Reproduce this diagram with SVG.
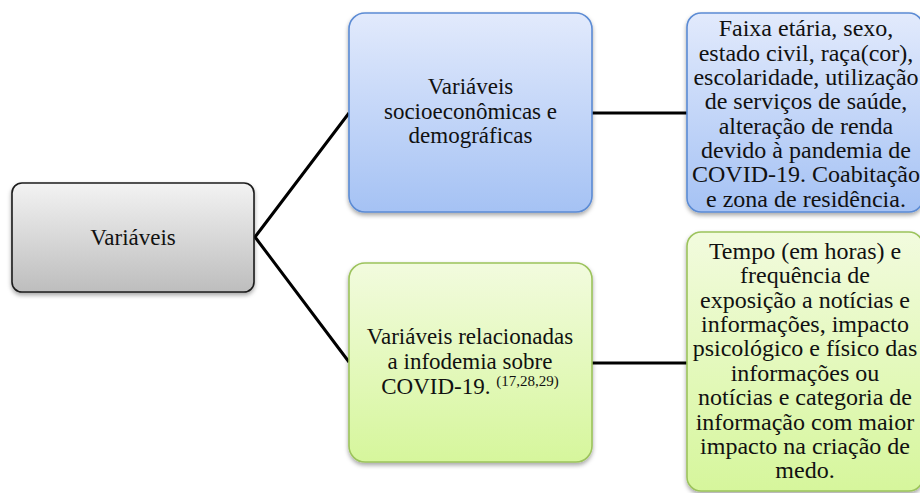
<svg xmlns="http://www.w3.org/2000/svg" width="920" height="493" viewBox="0 0 920 493">
<defs>
<linearGradient id="gGray" x1="0" y1="0" x2="0" y2="1"><stop offset="0" stop-color="#f3f3f3"/><stop offset="1" stop-color="#bdbdbd"/></linearGradient>
<linearGradient id="gBlue" x1="0" y1="0" x2="0" y2="1"><stop offset="0" stop-color="#e2eafc"/><stop offset="1" stop-color="#a5c2f4"/></linearGradient>
<linearGradient id="gGreen" x1="0" y1="0" x2="0" y2="1"><stop offset="0" stop-color="#f2fbde"/><stop offset="1" stop-color="#d6f69c"/></linearGradient>
<filter id="sh" x="-10%" y="-10%" width="120%" height="125%"><feDropShadow dx="0" dy="2.5" stdDeviation="2" flood-color="#000" flood-opacity="0.35"/></filter>
</defs>
<rect width="920" height="493" fill="#fff"/>
<g id="connectors" stroke="#000" stroke-width="3" fill="none">
<polyline points="349,113 255,237 349,362"/>
<line x1="592" y1="113" x2="687" y2="113"/>
<line x1="592" y1="363" x2="687" y2="363"/>
</g>
<g id="n-variaveis">
<rect x="12" y="183" width="242" height="109" rx="10" fill="url(#gGray)" stroke="#1c1c1c" stroke-width="1.6" filter="url(#sh)"/>
<text font-family="Liberation Serif" font-size="23" fill="#111" text-anchor="middle" x="133" y="245">Variáveis</text>
</g>
<g id="n-socio">
<rect x="349" y="13" width="243" height="199" rx="16" fill="url(#gBlue)" stroke="#5b8bd4" stroke-width="1.6" filter="url(#sh)"/>
<text font-family="Liberation Serif" font-size="23" fill="#111" text-anchor="middle" x="470.5" y="94">Variáveis</text>
<text font-family="Liberation Serif" font-size="23" fill="#111" text-anchor="middle" x="470.5" y="118.5">socioeconômicas e</text>
<text font-family="Liberation Serif" font-size="23" fill="#111" text-anchor="middle" x="470.5" y="143">demográficas</text>
</g>
<g id="n-socio-detail">
<rect x="687" y="13" width="236" height="199" rx="14" fill="url(#gBlue)" stroke="#5b8bd4" stroke-width="1.6" filter="url(#sh)"/>
<text font-family="Liberation Serif" font-size="24" fill="#111" text-anchor="middle" x="806" y="36">Faixa etária, sexo,</text>
<text font-family="Liberation Serif" font-size="24" fill="#111" text-anchor="middle" x="806" y="60.5">estado civil,  raça(cor),</text>
<text font-family="Liberation Serif" font-size="24" fill="#111" text-anchor="middle" x="806" y="85">escolaridade, utilização</text>
<text font-family="Liberation Serif" font-size="24" fill="#111" text-anchor="middle" x="806" y="109">de serviços de saúde,</text>
<text font-family="Liberation Serif" font-size="24" fill="#111" text-anchor="middle" x="806" y="133.5">alteração de renda</text>
<text font-family="Liberation Serif" font-size="24" fill="#111" text-anchor="middle" x="806" y="158">devido à pandemia de</text>
<text font-family="Liberation Serif" font-size="24" fill="#111" text-anchor="middle" x="806" y="182">COVID-19.  Coabitação</text>
<text font-family="Liberation Serif" font-size="24" fill="#111" text-anchor="middle" x="806" y="206.5">e  zona de residência.</text>
</g>
<g id="n-infodemia">
<rect x="349" y="263" width="243" height="199" rx="16" fill="url(#gGreen)" stroke="#9cc35c" stroke-width="1.6" filter="url(#sh)"/>
<text font-family="Liberation Serif" font-size="23" fill="#111" text-anchor="middle" x="470" y="344">Variáveis relacionadas</text>
<text font-family="Liberation Serif" font-size="23" fill="#111" text-anchor="middle" x="470" y="369">a infodemia sobre</text>
<text font-family="Liberation Serif" font-size="23" fill="#111" text-anchor="middle" x="470" y="393.5">COVID-19. <tspan font-size="15" dy="-8">(17,28,29)</tspan></text>
</g>
<g id="n-infodemia-detail">
<rect x="687" y="232" width="236" height="259" rx="14" fill="url(#gGreen)" stroke="#9cc35c" stroke-width="1.6" filter="url(#sh)"/>
<text font-family="Liberation Serif" font-size="24" fill="#111" text-anchor="middle" x="805" y="258.5">Tempo (em horas) e</text>
<text font-family="Liberation Serif" font-size="24" fill="#111" text-anchor="middle" x="805" y="283">frequência de</text>
<text font-family="Liberation Serif" font-size="24" fill="#111" text-anchor="middle" x="805" y="307.5">exposição a notícias e</text>
<text font-family="Liberation Serif" font-size="24" fill="#111" text-anchor="middle" x="805" y="332">informações, impacto</text>
<text font-family="Liberation Serif" font-size="24" fill="#111" text-anchor="middle" x="805" y="356">psicológico e físico das</text>
<text font-family="Liberation Serif" font-size="24" fill="#111" text-anchor="middle" x="805" y="380.5">informações ou</text>
<text font-family="Liberation Serif" font-size="24" fill="#111" text-anchor="middle" x="805" y="405">notícias e categoria de</text>
<text font-family="Liberation Serif" font-size="24" fill="#111" text-anchor="middle" x="805" y="429.5">informação com maior</text>
<text font-family="Liberation Serif" font-size="24" fill="#111" text-anchor="middle" x="805" y="454">impacto na criação de</text>
<text font-family="Liberation Serif" font-size="24" fill="#111" text-anchor="middle" x="805" y="478">medo.</text>
</g>
</svg>
